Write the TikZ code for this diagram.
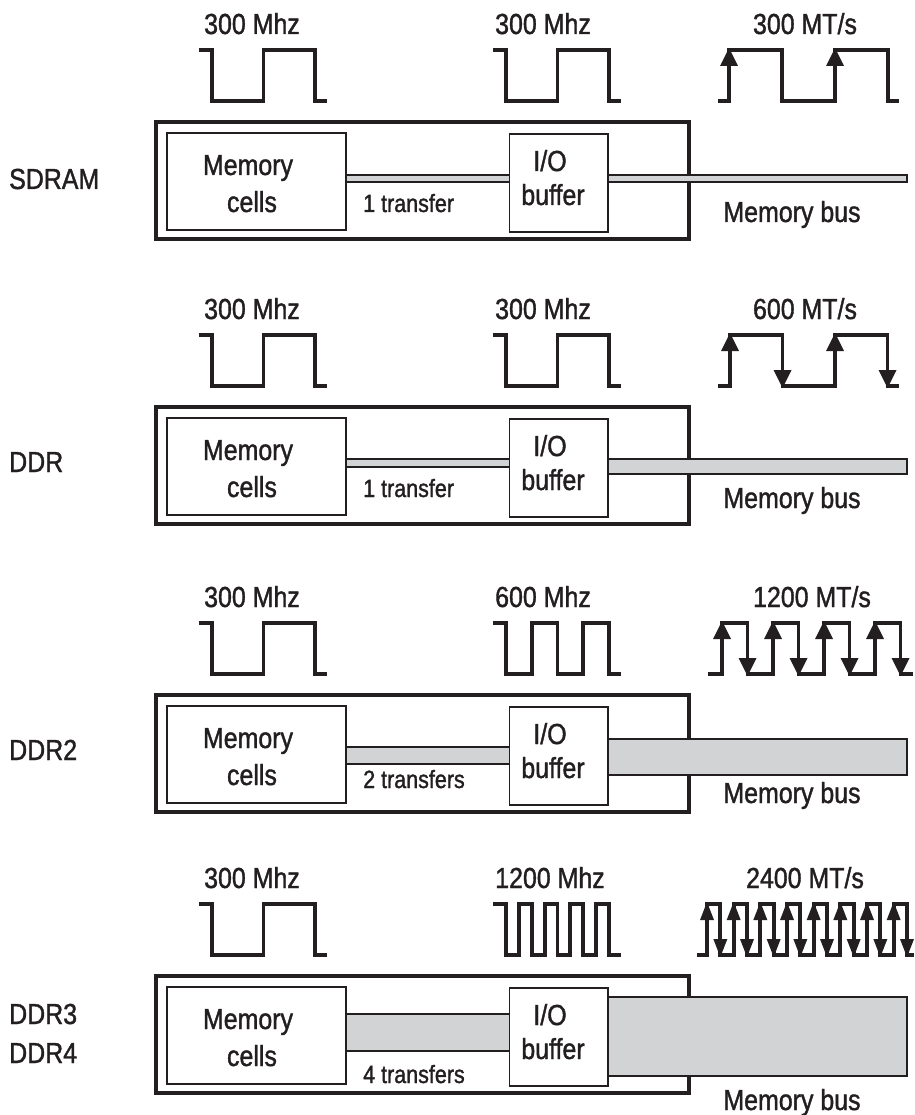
\documentclass[tikz,border=0pt]{standalone}
\usepackage{fontspec}
\setmainfont{Liberation Sans}[FakeStretch=0.86,FakeBold=1.3]
\usetikzlibrary{backgrounds}
\definecolor{ink}{RGB}{35,31,32}
\definecolor{busgray}{RGB}{209,211,212}
\newcommand\bigtxt{\fontsize{29}{33}\selectfont}
\newcommand\smalltxt{\fontsize{25}{29}\selectfont}

\tikzset{
  outerbox/.style={draw=ink, line width=4pt, minimum width=533pt, minimum height=117pt, inner sep=0pt, outer sep=0pt},
  membox/.style={draw=ink, line width=1.8pt, fill=white, minimum width=179pt, minimum height=96.7pt, inner sep=0pt, outer sep=0pt},
  iobox/.style={draw=ink, line width=1.8pt, fill=white, minimum width=98.5pt, minimum height=98pt, inner sep=0pt, outer sep=0pt},
  busbar/.style={draw=ink, line width=1.5pt, fill=busgray},
  sigline/.style={draw=ink, line width=3.8pt, line join=miter},
  lbl/.style={font=\bigtxt, text=ink, inner sep=0pt, anchor=base},
  lblw/.style={font=\bigtxt, text=ink, inner sep=0pt, anchor=base west},
  sublbl/.style={font=\smalltxt, text=ink, inner sep=0pt, anchor=base west},
}

% clock wave: #1 start x, #2 half period, #3 number of pulses
\newcommand\clockwave[3]{%
  \draw[sigline] (#1,50) -- ({#1+13},50) -- ({#1+13},101)
    foreach \k in {1,...,#3} { -- ({#1+13+(2*\k-1)*#2},101) -- ({#1+13+(2*\k-1)*#2},50)
      -- ({#1+13+2*\k*#2},50) -- ({#1+13+2*\k*#2},101) }
    -- ({#1+13+2*#3*#2+12},101);
}
% data wave: #1 start, #2 first rise, #3 half period, #4 pulses, #5 end, #6 arrow width, #7 down arrows (1/0)
\newcommand\datawave[7]{%
  \draw[sigline] (#1,101)
    foreach \k in {1,...,#4} { -- ({#2+(2*\k-2)*#3},101) -- ({#2+(2*\k-2)*#3},50)
      -- ({#2+(2*\k-1)*#3},50) -- ({#2+(2*\k-1)*#3},101) }
    -- (#5,101);
  \foreach \k in {1,...,#4} {
    \fill[ink] ({#2+(2*\k-2)*#3},48) -- ++({-#6/2},18) -- ++(#6,0) -- cycle;
  }
  \ifnum#7=1
  \foreach \k in {1,...,#4} {
    \fill[ink] ({#2+(2*\k-1)*#3},103) -- ++({-#6/2},-18) -- ++(#6,0) -- cycle;
  }
  \fi
}
% block: #1 suffix, #2-#5 bus edges, #6 transfer text, #7 transfer baseline, #8 memory bus baseline
\newcommand\dramblock[8]{%
  \node[membox] (mem#1) at (256.5,181.4) {};
  \node[iobox] (io#1) at (558.75,183) {};
  \coordinate (lbt#1) at (0,#2);
  \coordinate (lbb#1) at (0,#3);
  \coordinate (rbt#1) at (0,#4);
  \coordinate (rbb#1) at (0,#5);
  \coordinate (busend#1) at (907,0);
  \begin{scope}[on background layer]
    \node[outerbox] (outer#1) at (422,180.5) {};
    \draw[busbar] (mem#1.east |- lbt#1) rectangle (io#1.west |- lbb#1);
    \draw[busbar] (io#1.east |- rbt#1) rectangle (busend#1 |- rbb#1);
  \end{scope}
  \node[lbl] (memt#1) at (248,175) {Memory};
  \node[lbl] (cellt#1) at (252,212) {cells};
  \node[lbl] (iot#1) at (550,171) {I/O};
  \node[lbl] (buft#1) at (553,205) {buffer};
  \node[sublbl] (trt#1) at (363,#7) {#6};
  \node[lbl] (busl#1) at (792,#8) {Memory bus};
}

\begin{document}
\begin{tikzpicture}[x=1pt,y=-1pt]
\useasboundingbox (0,0) rectangle (914,1115);
\begin{scope}[on background layer]
  \fill[white] (0,0) rectangle (914,1115);
\end{scope}

% ---------- SDRAM ----------
\begin{scope}
  \node[lbl] (ca1) at (252,34) {300 Mhz};
  \node[lbl] (cb1) at (543,34) {300 Mhz};
  \node[lbl] (cr1) at (805,34) {300 MT/s};
  \clockwave{199}{51.5}{1}
  \clockwave{493}{51.5}{1}
  \datawave{718}{729}{53}{2}{899}{18}{0}
  \dramblock{a}{175}{182}{175}{182}{1 transfer}{212}{222}
  \node[lblw] (name1) at (9,189) {SDRAM};
\end{scope}

% ---------- DDR ----------
\begin{scope}[shift={(0,285)}]
  \node[lbl] (ca2) at (252,34) {300 Mhz};
  \node[lbl] (cb2) at (543,34) {300 Mhz};
  \node[lbl] (cr2) at (805,34) {600 MT/s};
  \clockwave{199}{51.5}{1}
  \clockwave{493}{51.5}{1}
  \datawave{718}{730}{52.5}{2}{899}{18}{1}
  \dramblock{b}{174}{182}{174}{189}{1 transfer}{212}{223}
  \node[lblw] (name2) at (9,187) {DDR};
\end{scope}

% ---------- DDR2 ----------
\begin{scope}[shift={(0,573)}]
  \node[lbl] (ca3) at (252,34) {300 Mhz};
  \node[lbl] (cb3) at (543,34) {600 Mhz};
  \node[lbl] (cr3) at (812,34) {1200 MT/s};
  \clockwave{199}{51.5}{1}
  \clockwave{493}{25.75}{2}
  \datawave{708}{722}{25.5}{4}{913}{18}{1}
  \dramblock{c}{174}{191}{166}{202}{2 transfers}{215}{230}
  \node[lblw] (name3) at (9,187) {DDR2};
\end{scope}

% ---------- DDR3 / DDR4 ----------
\begin{scope}[shift={(0,854)}]
  \node[lbl] (ca4) at (252,34) {300 Mhz};
  \node[lbl] (cb4) at (550,34) {1200 Mhz};
  \node[lbl] (cr4) at (805,34) {2400 MT/s};
  \clockwave{199}{51.5}{1}
  \clockwave{493}{12.875}{4}
  \datawave{697}{707}{13.333}{8}{914}{14}{1}
  \dramblock{d}{160}{197}{143}{222}{4 transfers}{229}{256}
  \node[lblw] (name4a) at (9,170) {DDR3};
  \node[lblw] (name4b) at (9,209) {DDR4};
\end{scope}
\end{tikzpicture}
\end{document}
